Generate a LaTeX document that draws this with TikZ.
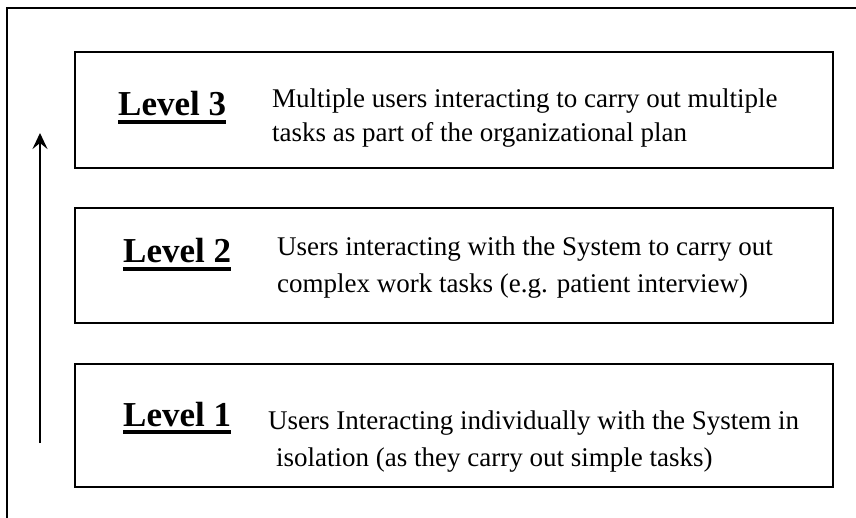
\documentclass[tikz,border=0pt]{standalone}
\usepackage{fontspec}
\setmainfont{Liberation Serif}
\usetikzlibrary{arrows.meta}
\tikzset{
  lvlbox/.style={draw, line width=1.6pt},
  lvlname/.style={font=\fontsize{35}{40}\selectfont\bfseries, inner sep=0pt, anchor=base west},
  lvltext/.style={font=\fontsize{27}{33}\selectfont, inner sep=0pt, anchor=base west},
  lvlline/.style={line width=3.5pt},
}
\begin{document}
\begin{tikzpicture}[x=1pt, y=-1pt, >={Stealth[length=16pt,width=15pt,inset=6pt]}]
 \useasboundingbox (0,0) rectangle (856,518);
 % frame
 \draw[line width=1.8pt] (7,518) -- (7,8) -- (856,8);
 % the three boxes
 \draw[lvlbox] (75,52) rectangle (833,168);
 \draw[lvlbox] (75,208) rectangle (833,323);
 \draw[lvlbox] (75,364) rectangle (833,487);
 % arrow
 \coordinate (arrbot) at (40,443);
 \coordinate (arrtop) at (40,133);
 \draw[->, line width=2.8pt] (arrbot) -- (arrtop);
 % level 3
 \node[lvlname] (lv3) at (118,116) {Level 3};
 \node[lvltext] (tx3a) at (272,108) {Multiple users interacting to carry out multiple};
 \node[lvltext] (tx3b) at (272,142) {tasks as part of the organizational plan};
 % level 2
 \node[lvlname] (lv2) at (123,263) {Level 2};
 \node[lvltext] (tx2a) at (277,256) {Users interacting with the System to carry out};
 \node[lvltext] (tx2b) at (277,293) {complex work tasks (e.g. patient interview)};
 % level 1
 \node[lvlname] (lv1) at (123,426) {Level 1};
 \node[lvltext] (tx1a) at (268,429) {Users Interacting individually with the System in};
 \node[lvltext] (tx1b) at (276,466) {isolation (as they carry out simple tasks)};
 % underlines
 \foreach \n in {lv3,lv2,lv1}
 {
     \draw[lvlline] ([yshift=-6pt]\n.base west) -- ([yshift=-6pt]\n.base east);
 }
\end{tikzpicture}
\end{document}
